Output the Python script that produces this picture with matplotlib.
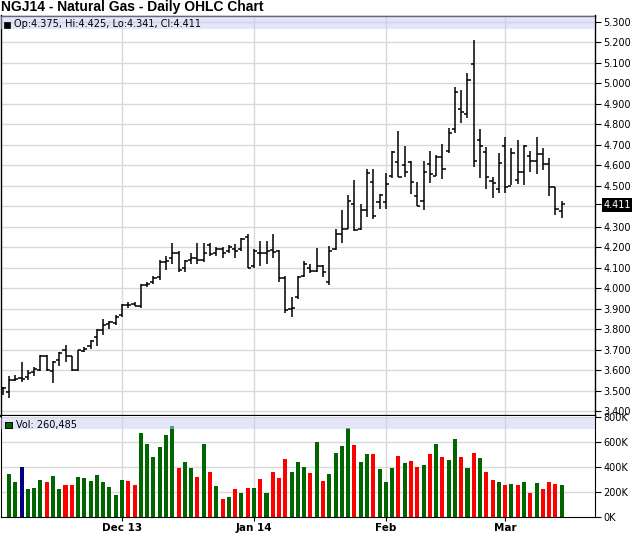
"""
NGJ14 天然ガス 日足OHLCチャート（出来高付き）
"""

import matplotlib
matplotlib.use("Agg")
import matplotlib.pyplot as plt
from matplotlib.patches import Rectangle
import numpy as np
import pandas as pd

# ===== データ =====
holidays = ["2013-11-28", "2013-12-25", "2014-01-01", "2014-01-20", "2014-02-17"]
dates = pd.bdate_range("2013-11-04", "2014-03-14", freq="C", holidays=holidays)

opens = [3.515, 3.494, 3.555, 3.560, 3.565, 3.590, 3.600, 3.668, 3.598, 3.650,
         3.700, 3.670, 3.600, 3.695, 3.720, 3.760, 3.795, 3.825, 3.830, 3.870,
         3.920, 3.925, 3.915, 4.015, 4.030, 4.055, 4.130, 4.150, 4.170, 4.100,
         4.140, 4.150, 4.140, 4.210, 4.170, 4.190, 4.180, 4.190, 4.190, 4.250,
         4.110, 4.170, 4.170, 4.185, 4.180, 4.050, 3.900, 3.960, 4.060, 4.100,
         4.085, 4.110, 4.030, 4.190, 4.267, 4.290, 4.410, 4.287, 4.384, 4.520,
         4.420, 4.420, 4.550, 4.616, 4.600, 4.616, 4.450, 4.426, 4.605, 4.548,
         4.639, 4.672, 4.777, 4.873, 4.850, 5.094, 4.724, 4.665, 4.525, 4.485,
         4.694, 4.501, 4.528, 4.569, 4.646, 4.623, 4.655, 4.605, 4.496, 4.375]
highs = [3.517, 3.572, 3.575, 3.640, 3.600, 3.615, 3.675, 3.675, 3.645, 3.690,
         3.725, 3.672, 3.700, 3.712, 3.750, 3.800, 3.850, 3.840, 3.870, 3.925,
         3.935, 3.935, 4.020, 4.030, 4.060, 4.140, 4.160, 4.220, 4.180, 4.140,
         4.170, 4.220, 4.220, 4.220, 4.200, 4.200, 4.210, 4.215, 4.245, 4.265,
         4.190, 4.230, 4.230, 4.267, 4.185, 4.060, 3.960, 4.060, 4.133, 4.120,
         4.197, 4.115, 4.205, 4.290, 4.384, 4.454, 4.530, 4.410, 4.580, 4.584,
         4.462, 4.564, 4.668, 4.766, 4.695, 4.620, 4.520, 4.621, 4.670, 4.650,
         4.702, 4.784, 4.980, 4.967, 5.052, 5.211, 4.777, 4.691, 4.545, 4.662,
         4.738, 4.683, 4.724, 4.699, 4.672, 4.740, 4.683, 4.637, 4.496, 4.425]
lows = [3.479, 3.463, 3.548, 3.545, 3.555, 3.570, 3.595, 3.595, 3.536, 3.620,
        3.640, 3.598, 3.598, 3.690, 3.705, 3.720, 3.770, 3.800, 3.820, 3.860,
        3.905, 3.915, 3.905, 4.005, 4.020, 4.040, 4.090, 4.120, 4.080, 4.080,
        4.120, 4.120, 4.130, 4.160, 4.160, 4.150, 4.170, 4.150, 4.180, 4.100,
        4.100, 4.110, 4.120, 4.150, 4.030, 3.880, 3.860, 3.950, 4.055, 4.075,
        4.080, 4.055, 4.018, 4.185, 4.220, 4.290, 4.280, 4.285, 4.350, 4.340,
        4.389, 4.389, 4.540, 4.545, 4.545, 4.460, 4.400, 4.382, 4.515, 4.548,
        4.535, 4.662, 4.756, 4.805, 4.829, 4.594, 4.537, 4.483, 4.442, 4.463,
        4.463, 4.504, 4.509, 4.504, 4.566, 4.556, 4.577, 4.450, 4.358, 4.341]
closes = [3.515, 3.552, 3.557, 3.557, 3.585, 3.608, 3.670, 3.600, 3.640, 3.685,
          3.670, 3.600, 3.698, 3.705, 3.745, 3.795, 3.820, 3.835, 3.860, 3.920,
          3.918, 3.915, 4.015, 4.020, 4.050, 4.130, 4.135, 4.170, 4.090, 4.135,
          4.150, 4.140, 4.170, 4.165, 4.190, 4.170, 4.200, 4.180, 4.240, 4.100,
          4.180, 4.170, 4.180, 4.175, 4.050, 3.895, 3.905, 4.055, 4.117, 4.085,
          4.110, 4.081, 4.180, 4.267, 4.290, 4.424, 4.283, 4.384, 4.563, 4.353,
          4.455, 4.507, 4.665, 4.543, 4.567, 4.517, 4.403, 4.569, 4.556, 4.642,
          4.582, 4.756, 4.956, 4.862, 5.016, 4.621, 4.694, 4.545, 4.512, 4.613,
          4.496, 4.662, 4.569, 4.694, 4.623, 4.655, 4.605, 4.496, 4.385, 4.411]

# 出来高（千枚）。先頭日は出来高なし
volumes = [np.nan, 347, 285, 403, 227, 235, 299, 285, 331, 227,
           259, 259, 323, 315, 291, 339, 283, 243, 179, 299,
           291, 259, 675, 587, 483, 563, 659, 731, 395, 443,
           395, 323, 587, 363, 251, 147, 163, 227, 195, 235,
           235, 307, 195, 363, 315, 467, 363, 443, 403, 355,
           603, 291, 347, 515, 571, 712, 579, 443, 507, 507,
           387, 283, 395, 491, 435, 451, 403, 419, 507, 587,
           483, 459, 627, 483, 395, 515, 475, 363, 299, 283,
           259, 267, 259, 283, 195, 275, 227, 283, 267, 260.485]

month_labels = ["Dec 13", "Jan 14", "Feb", "Mar"]
price_ticks = [3.4, 3.5, 3.6, 3.7, 3.8, 3.9, 4.0, 4.1, 4.2, 4.3,
               4.5, 4.6, 4.7, 4.8, 4.9, 5.0, 5.1, 5.2, 5.3]
volume_ticks = [0, 200, 400, 600, 800]

GREEN = "#006600"
RED = "#FF0000"
NAVY = "#000080"
GRID = "#D9D9D9"
BAND = "#CDCDF5"

W, H = 640, 536


def fx(px):
    return px / W


def fy(py):
    return 1 - py / H


def main():
    o = np.asarray(opens)
    h = np.asarray(highs)
    lo = np.asarray(lows)
    c = np.asarray(closes)
    v = np.asarray(volumes, dtype=float)
    x = np.arange(len(c))

    # 月初の位置
    month = dates.month
    month_pos = [i for i in range(1, len(dates)) if month[i] != month[i - 1]]

    fig = plt.figure(figsize=(W / 100, H / 100), dpi=100)
    ax = fig.add_axes([fx(1), fy(416), fx(594), fy(15.5) - fy(416)])
    axv = fig.add_axes([fx(1), fy(517.3), fx(594), fy(416) - fy(517.3)], sharex=ax)

    # --- 価格パネル ---
    for p in np.arange(3.4, 5.35, 0.1):
        ax.axhline(p, color=GRID, lw=1, zorder=0)
    for m in month_pos:
        ax.axvline(m, color=GRID, lw=1, zorder=0)
        axv.axvline(m, color=GRID, lw=1, zorder=0)

    ax.vlines(x, lo, h, color="black", lw=1.1, zorder=2)
    ax.hlines(o, x - 0.5, x, color="black", lw=1.1, zorder=2)
    ax.hlines(c, x, x + 0.5, color="black", lw=1.1, zorder=2)

    ax.set_xlim(-0.27, 94.3)
    ax.set_ylim(3.377, 5.331)

    ax.yaxis.tick_right()
    ticks = price_ticks + [c[-1]]
    ax.set_yticks(ticks)
    ax.set_yticklabels([f"{t:.3f}" for t in ticks])
    ax.tick_params(axis="y", direction="out", length=4, width=0.8, pad=2,
                   labelsize=7, colors="black")
    last_label = ax.get_yticklabels()[-1]
    last_label.set_color("white")
    last_label.set_bbox(dict(facecolor="black", edgecolor="none", pad=1.2))
    ax.tick_params(axis="x", length=0, labelbottom=False)

    for side in ["left", "top", "right"]:
        ax.spines[side].set_linewidth(1)
    ax.spines["bottom"].set_linewidth(1.6)

    ax.add_patch(Rectangle((0, 1 - 13.2 / 400.5), 1, 13.2 / 400.5,
                           transform=ax.transAxes, facecolor=BAND,
                           edgecolor="none", alpha=0.5, zorder=3))

    # --- 出来高パネル ---
    for q in [200, 400, 600, 800]:
        axv.axhline(q, color=GRID, lw=1, zorder=0)

    diff = np.diff(c, prepend=c[0])
    colors = [NAVY if np.isclose(d, 0) else (GREEN if d > 0 else RED) for d in diff]
    axv.bar(x, v, width=0.64, color=colors, zorder=2)
    axv.set_ylim(0, 810)

    axv.yaxis.tick_right()
    axv.set_yticks(volume_ticks)
    axv.set_yticklabels([f"{t}K" for t in volume_ticks])
    axv.tick_params(axis="y", direction="out", length=4, width=0.8, pad=2,
                    labelsize=7, colors="black")

    axv.set_xticks(month_pos)
    axv.set_xticklabels(month_labels, fontweight="bold", fontsize=7.5)
    axv.tick_params(axis="x", direction="out", length=3, width=0.8, pad=1)
    axv.spines["top"].set_visible(False)

    axv.add_patch(Rectangle((0, 1 - 13.3 / 101.3), 1, 11 / 101.3,
                            transform=axv.transAxes, facecolor=BAND,
                            edgecolor="none", alpha=0.5, zorder=3))

    # --- タイトルと凡例 ---
    fig.text(fx(1), fy(7), "NGJ14 - Natural Gas - Daily OHLC Chart",
             fontsize=10, fontweight="bold", family="Liberation Sans", va="center")

    fig.add_artist(Rectangle((fx(3.5), fy(27.5)), fx(6), fy(21.5) - fy(27.5),
                             transform=fig.transFigure, facecolor="black",
                             edgecolor="black", lw=0.5))
    fig.text(fx(14), fy(24.3),
             f"Op:{o[-1]:.3f}, Hi:{h[-1]:.3f}, Lo:{lo[-1]:.3f}, Cl:{c[-1]:.3f}",
             fontsize=7, va="center")

    fig.add_artist(Rectangle((fx(5), fy(428.3)), fx(7), fy(421.5) - fy(428.3),
                             transform=fig.transFigure, facecolor=GREEN,
                             edgecolor="black", lw=0.7))
    fig.text(fx(16), fy(424.7), f"Vol: {v[-1] * 1000:,.0f}",
             fontsize=7, va="center")

    fig.savefig("out.png", dpi=100)


if __name__ == "__main__":
    main()
